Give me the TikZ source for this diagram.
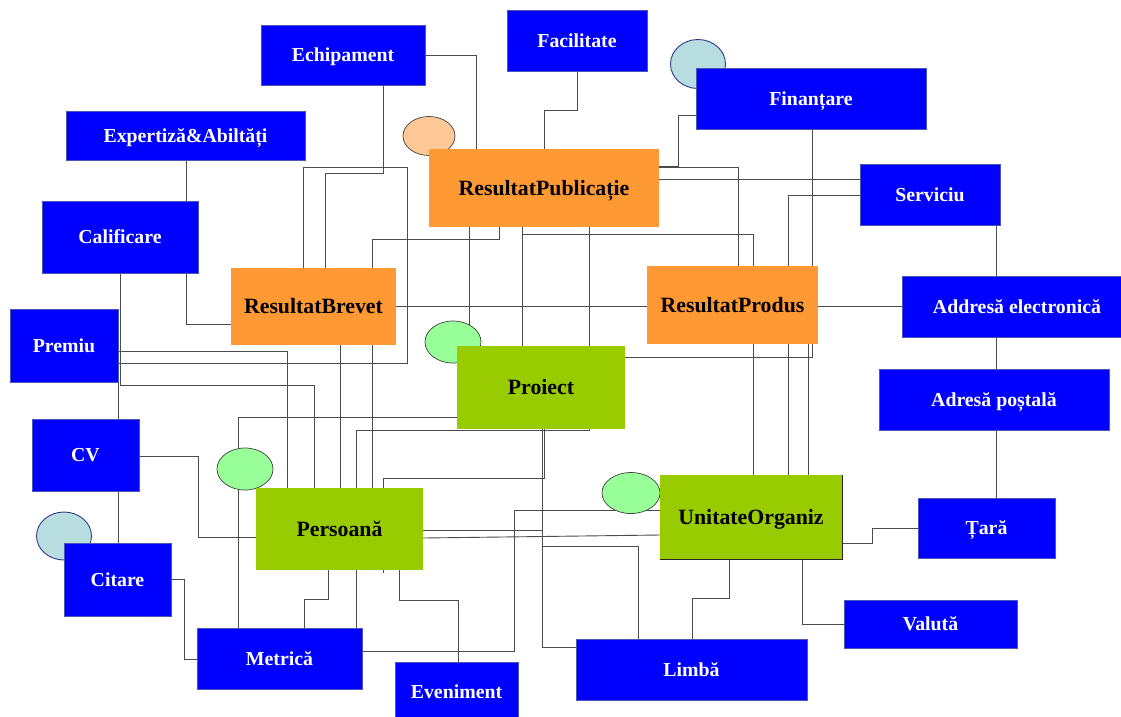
\documentclass[tikz,border=0pt]{standalone}
\usepackage{fontspec}
\setmainfont{Liberation Serif}
\usetikzlibrary{shapes.geometric}
\pgfdeclarelayer{bg}
\pgfsetlayers{bg,main}
\definecolor{bl}{HTML}{0000FF}
\definecolor{bdr}{HTML}{4B55B8}
\definecolor{orng}{HTML}{FF9933}
\definecolor{grn}{HTML}{99CC00}
\definecolor{elgr}{HTML}{99FF99}
\definecolor{ellb}{HTML}{B8DDE1}
\definecolor{elor}{HTML}{FFC896}
\definecolor{elbd}{HTML}{2F3A8C}
\newcommand\mkbox[7]{%
  \pgfmathsetmacro\mybw{#4-#2}\pgfmathsetmacro\mybh{#5-#3}%
  \pgfmathsetmacro\mybx{(#2+#4)/2}\pgfmathsetmacro\myby{(#3+#5)/2}%
  \node[#6, minimum width=\mybw pt, minimum height=\mybh pt] (#1) at (\mybx,\myby) {#7};}
\begin{document}
\begin{tikzpicture}[x=1pt,y=-1pt,
  boxbase/.style={inner sep=0pt, outer sep=0pt, text depth=0pt},
  bluebox/.style={boxbase, fill=bl, draw=bdr, line width=0.8pt, text=white, text height=13.1pt,
    font=\fontsize{19.8}{22}\selectfont\bfseries},
  orbox/.style={boxbase, fill=orng, draw=none, text=black, text height=14.4pt,
    font=\fontsize{21.8}{24}\selectfont\bfseries},
  grbox/.style={boxbase, fill=grn, draw=none, text=black, text height=14.4pt,
    font=\fontsize{21.8}{24}\selectfont\bfseries},
  elg/.style={ellipse, fill=elgr, draw=black!75, line width=0.7pt, inner sep=0pt},
  elb/.style={ellipse, fill=ellb, draw=elbd, line width=0.9pt, inner sep=0pt},
  elo/.style={ellipse, fill=elor, draw=black!75, line width=0.7pt, inner sep=0pt},
  ln/.style={draw=black!70, line width=0.9pt}]
\useasboundingbox (0,0) rectangle (1121,716);

% ellipses
\node[elb, minimum width=55pt, minimum height=49pt] (Efin) at (698,64) {};
\node[elo, minimum width=52pt, minimum height=39pt] (Eor) at (429,136) {};
\node[elg, minimum width=56pt, minimum height=42pt] (Eproi) at (453,342) {};
\node[elg, minimum width=56pt, minimum height=42pt] (Epers) at (245,469) {};
\node[elb, minimum width=55pt, minimum height=48pt] (Ecit) at (64,536) {};
\node[elg, minimum width=58pt, minimum height=41pt] (Euo) at (631,493) {};

% boxes
\mkbox{Ech}{261}{25}{425}{85}{bluebox}{Echipament}
\mkbox{Fac}{507}{10}{647}{71}{bluebox}{Facilitate}
\mkbox{Fin}{696}{68}{926}{129}{bluebox}{Finanțare}
\mkbox{Exp}{66}{111}{305}{160}{bluebox}{Expertiză\&Abiltăți}
\mkbox{Calif}{42}{201}{198}{273}{bluebox}{Calificare}
\mkbox{RB}{231}{268}{396}{345}{orbox}{ResultatBrevet}
\mkbox{RP}{429}{149}{659}{227}{orbox}{ResultatPublicație}
\mkbox{Serv}{860}{164}{1000}{225}{bluebox}{Serviciu}
\mkbox{RPr}{647}{266}{818}{344}{orbox}{ResultatProdus}
\mkbox{AE}{902}{276}{1132}{337}{bluebox}{Addresă electronică}
\mkbox{Prem}{10}{309}{118}{382}{bluebox}{Premiu}
\mkbox{Proi}{457}{346}{625}{429}{grbox}{Proiect}
\mkbox{AP}{879}{369}{1109}{430}{bluebox}{Adresă poștală}
\mkbox{CV}{32}{419}{139}{491}{bluebox}{CV}
\mkbox{Pers}{256}{488}{423}{570}{grbox}{Persoană}
\mkbox{Cit}{64}{543}{171}{616}{bluebox}{Citare}
\mkbox{UO}{660}{475}{842}{559}{grbox}{UnitateOrganiz}
\mkbox{Tara}{918}{498}{1055}{558}{bluebox}{Țară}
\mkbox{Val}{844}{600}{1017}{648}{bluebox}{Valută}
\mkbox{Metr}{197}{628}{362}{689}{bluebox}{Metrică}
\mkbox{Ev}{395}{662}{518}{722}{bluebox}{Eveniment}
\mkbox{Limba}{576}{639}{807}{700}{bluebox}{Limbă}
\draw[black!85, line width=0.8pt] (UO.north east) -- (UO.south east) -- (UO.south west);

\begin{pgfonlayer}{bg}
\fill[white] (0,0) rectangle (1121,716);
\draw[ln] (Exp.south -| 186,0) -- (Calif.north -| 186,0);
\draw[ln] (Calif.south -| 186,0) |- (RB.west |- 0,324);
\draw[ln] (Calif.south -| 120,0) |- (314,385) -- (Pers.north -| 314,0);
\draw[ln] (Prem.south -| 118,0) -- (CV.north -| 118,0);
\draw[ln] (CV.south -| 118,0) -- (Cit.north -| 118,0);
\draw[ln] (Prem.east |- 0,351) -| (Pers.north -| 287,0);
\draw[ln] (Prem.east |- 0,363) -| (407,167) -| (RB.north -| 303,0);
\draw[ln] (Ech.south -| 383,0) |- (325,173) -- (RB.north -| 325,0);
\draw[ln] (Ech.east |- 0,55) -| (RP.north -| 476,0);
\draw[ln] (Fac.south -| 577,0) |- (544,110) -- (RP.north -| 544,0);
\draw[ln] (RP.east |- 0,166) -| (678,115) -- (Fin.west |- 0,115);
\draw[ln] (RP.east |- 0,167) -| (RPr.north -| 738,0);
\draw[ln] (RP.east |- 0,179) -- (Serv.west |- 0,179);
\draw[ln] (Serv.west |- 0,195) -| (UO.north -| 788,0);
\draw[ln] (Fin.south -| 812,0) |- (Proi.east |- 0,357);
\draw[ln] (RPr.south -| 808,0) -- (UO.north -| 808,0);
\draw[ln] (RP.south -| 522,0) |- (753,234) -- (UO.north -| 753,0);
\draw[ln] (RP.south -| 522,0) -- (Proi.north -| 522,0);
\draw[ln] (RP.south -| 589,0) -- (Proi.north -| 589,0);
\draw[ln] (RP.south -| 469,0) -- (Eproi -| 469,0);
\draw[ln] (RP.south -| 499,0) |- (372,239) -- (Pers.north -| 372,0);
\draw[ln] (RB.south -| 340,0) -- (Pers.north -| 340,0);
\draw[ln] (RB.east |- 0,306) -- (RPr.west |- 0,306);
\draw[ln] (RPr.east |- 0,306) -- (AE.west |- 0,306);
\draw[ln] (Serv.south -| 996,0) -- (AE.north -| 996,0);
\draw[ln] (AE.south -| 996,0) -- (AP.north -| 996,0);
\draw[ln] (AP.south -| 996,0) -- (Tara.north -| 996,0);
\draw[ln] (UO.east |- 0,543) -| (872,528) -- (Tara.west |- 0,528);
\draw[ln] (UO.south -| 802,0) |- (Val.west |- 0,624);
\draw[ln] (UO.south -| 729,0) |- (692,598) -- (Limba.north -| 692,0);
\draw[ln] (Proi.south -| 542,0) |- (638,546) -- (Limba.north -| 638,0);
\draw[ln] (Pers.east |- 0,530) -| (542,647) -- (Limba.west |- 0,647);
\draw[ln] (Pers.east |- 0,538) -- (UO.west |- 0,535);
\draw[ln] (UO.west |- 0,510) -| (514,651) -- (Metr.east |- 0,651);
\draw[ln] (Proi.south -| 544,0) |- (383,478) -- ([yshift=-3pt]Pers.south -| 383,0);
\draw[ln] (Proi.south -| 589,0) |- (356,430) -- (Metr.north -| 356,0);
\draw[ln] (Proi.west |- 0,417) -| (Metr.north -| 238,0);
\draw[ln] (CV.east |- 0,456) -| (198,537) -- (Pers.west |- 0,537);
\draw[ln] (Cit.east |- 0,579) -| (184,659) -- (Metr.west |- 0,659);
\draw[ln] (Pers.south -| 328,0) |- (304,599) -- (Metr.north -| 304,0);
\draw[ln] (Pers.south -| 399,0) |- (458,600) -- (Ev.north -| 458,0);
\end{pgfonlayer}
\end{tikzpicture}
\end{document}
